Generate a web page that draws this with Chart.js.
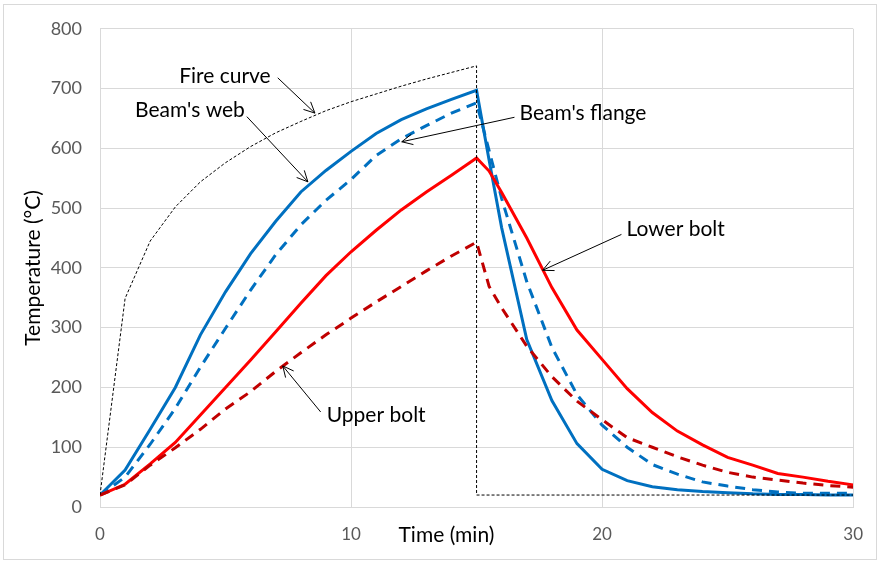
<!DOCTYPE html>
<html><head><meta charset="utf-8">
<script src="https://cdn.jsdelivr.net/npm/chart.js@4/dist/chart.umd.min.js"></script>
<style>html,body{margin:0;padding:0;background:#fff;}#wrap{width:880px;height:562px;position:relative;}</style>
</head><body><div id="wrap"><canvas id="c" width="880" height="562"></canvas></div>
<script>
const time = [0,1,2,3,4,5,6,7,8,9,10,11,12,13,14,15,15.5,16,17,18,19,20,21,22,23,24,25,26,27,28,29,30];
const beamWeb    = [20,62,130,200,288,360,424,478,527,563,595,625,648,666,682,697,580,467,280,178,106,63,44,34,29,26,24,22,21,21,20,20];
const beamFlange = [20,50,105,165,234,299,363,422,472,513,548,588,616,638,659,676,596,516,377,267,188,137,100,71,55,42,35,29,25,23,23,23];
const lowerBolt  = [20,38,72,108,154,200,246,293,341,387,427,463,497,527,555,584,562,526,450,367,296,247,198,158,127,104,83,70,56,50,43,37];
const upperBolt  = [20,37,70,99,130,164,193,227,258,288,316,343,369,395,420,443,369,333,269,218,177,146,116,100,84,70,58,50,45,40,36,33];
const fireTime   = [0,1,2,3,4,5,6,7,8,9,10,11,12,13,14,15,15,30];
const fireCurve  = [20,349,445,502,544,576,603,626,645,663,678,691,704,716,727,738,20,20];
const xTicks = [0,10,20,30];
const yTicks = [0,100,200,300,400,500,600,700,800];
const labels = [
  {text:"Fire curve",   tx:6.8,  ty:720, align:"right", from:[7.08,718], to:[8.56,659]},
  {text:"Beam's web",   tx:5.77, ty:663, align:"right", from:[5.85,653], to:[8.28,544]},
  {text:"Beam's flange",tx:16.71,ty:658, align:"left",  from:[16.51,652],to:[12.02,611]},
  {text:"Lower bolt",   tx:20.97,ty:465, align:"left",  from:[20.77,456],to:[17.63,396]},
  {text:"Upper bolt",   tx:9.03, ty:153, align:"left",  from:[8.79,159], to:[7.28,236]}
];
const FONT = "Lato, 'Open Sans', sans-serif";
const pts = (xs, ys) => xs.map((x,i)=>({x:x, y:ys[i]}));

const extras = {
  id:'extras',
  afterDraw(chart){
    const ctx = chart.ctx, xs = chart.scales.x, ys = chart.scales.y;
    ctx.save();
    ctx.strokeStyle = '#d9d9d9'; ctx.lineWidth = 1;
    ctx.strokeRect(3.5, 4.5, 873, 555);
    ctx.fillStyle = '#000'; ctx.strokeStyle = '#000';
    ctx.font = "21px " + FONT; ctx.textBaseline = 'middle';
    labels.forEach(l=>{
      ctx.textAlign = l.align;
      ctx.fillText(l.text, xs.getPixelForValue(l.tx), ys.getPixelForValue(l.ty));
      const x1 = xs.getPixelForValue(l.from[0]), y1 = ys.getPixelForValue(l.from[1]);
      const x2 = xs.getPixelForValue(l.to[0]), y2 = ys.getPixelForValue(l.to[1]);
      ctx.lineWidth = 1;
      ctx.beginPath(); ctx.moveTo(x1,y1); ctx.lineTo(x2,y2); ctx.stroke();
      const a = Math.atan2(y2-y1, x2-x1), L = 12, s = 0.45;
      ctx.beginPath();
      ctx.moveTo(x2 - L*Math.cos(a-s), y2 - L*Math.sin(a-s));
      ctx.lineTo(x2,y2);
      ctx.lineTo(x2 - L*Math.cos(a+s), y2 - L*Math.sin(a+s));
      ctx.stroke();
    });
    ctx.textAlign = 'center';
    ctx.font = "21px " + FONT;
    ctx.fillText("Time (min)", xs.getPixelForValue(13.8), 535);
    ctx.restore();
  }
};

new Chart(document.getElementById('c'), {
  type:'line',
  data:{datasets:[
    {label:'Fire curve', data:pts(fireTime,fireCurve), borderColor:'#000', borderWidth:1, borderDash:[3,2], pointRadius:0, tension:0},
    {label:'Upper bolt', data:pts(time,upperBolt), borderColor:'#C00000', borderWidth:3, borderDash:[10,7], pointRadius:0, tension:0},
    {label:'Lower bolt', data:pts(time,lowerBolt), borderColor:'#FF0000', borderWidth:3, pointRadius:0, tension:0},
    {label:"Beam's flange", data:pts(time,beamFlange), borderColor:'#0070C0', borderWidth:3, borderDash:[10,7], pointRadius:0, tension:0},
    {label:"Beam's web", data:pts(time,beamWeb), borderColor:'#0070C0', borderWidth:3, pointRadius:0, tension:0}
  ]},
  options:{
    responsive:false, animation:false,
    layout:{padding:{left:0, top:16, right:25, bottom:0}},
    plugins:{legend:{display:false}, tooltip:{enabled:false}},
    scales:{
      x:{type:'linear', min:0, max:30,
        afterBuildTicks:s=>{s.ticks = xTicks.map(v=>({value:v}));},
        afterFit:s=>{s.height = 55;},
        grid:{color:'#d9d9d9', drawTicks:false},
        border:{color:'#d9d9d9'},
        ticks:{color:'#595959', font:{family:FONT, size:17}, padding:17, maxRotation:0}
      },
      y:{min:0, max:800,
        afterBuildTicks:s=>{s.ticks = yTicks.map(v=>({value:v}));},
        afterFit:s=>{s.width = 100;},
        grid:{color:'#d9d9d9', drawTicks:false},
        border:{color:'#d9d9d9'},
        title:{display:true, text:'Temperature (°C)', color:'#000', font:{family:FONT, size:21}, padding:{top:21,bottom:0}},
        ticks:{color:'#595959', font:{family:FONT, size:18}, padding:18}
      }
    }
  },
  plugins:[extras]
});
</script></body></html>
